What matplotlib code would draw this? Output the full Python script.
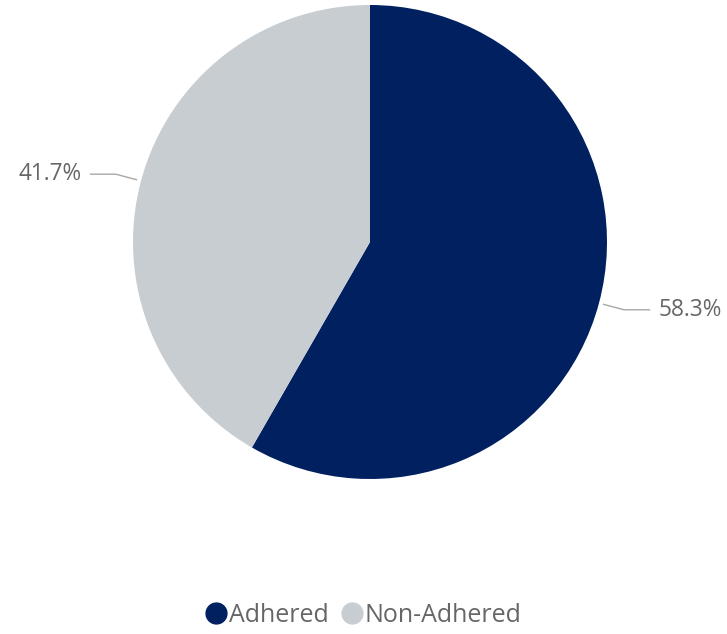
import numpy as np
import matplotlib
matplotlib.use("Agg")
import matplotlib.pyplot as plt
from matplotlib.lines import Line2D

categories = ["Adhered", "Non-Adhered"]
values = [58.3, 41.7]
labels = ["58.3%", "41.7%"]
colors = ["#002060", "#C8CDD2"]

W, H = 727, 634
fig = plt.figure(figsize=(W / 100, H / 100), dpi=100)
ax = fig.add_axes([0, 0, 1, 1])

cx, cy, r = 370, H - 242, 237
wedges, _ = ax.pie(values, colors=colors, startangle=90, counterclock=False,
                   center=(cx, cy), radius=r, frame=True,
                   wedgeprops=dict(linewidth=0))
ax.set_xlim(0, W)
ax.set_ylim(0, H)
ax.axis("off")

label_font = ["Open Sans", "DejaVu Sans"]
for w, lab in zip(wedges, labels):
    ang = np.deg2rad((w.theta1 + w.theta2) / 2)
    x0, y0 = cx + (r + 4) * np.cos(ang), cy + (r + 4) * np.sin(ang)
    x1, y1 = cx + (r + 26) * np.cos(ang), cy + (r + 26) * np.sin(ang)
    side = 1 if np.cos(ang) > 0 else -1
    x2 = x1 + side * 26
    ax.plot([x0, x1, x2], [y0, y1, y1], color="#A8A8A8", lw=1.0, solid_capstyle="butt")
    ax.text(x2 + side * 8, y1, lab, ha="left" if side > 0 else "right", va="center",
            fontsize=16.3, color="#666666", family=label_font)

handles = [Line2D([], [], marker="o", linestyle="none", markersize=15,
                  markerfacecolor=c, markeredgecolor=c) for c in colors]
leg = fig.legend(handles, categories, loc="center", bbox_to_anchor=(0.5, 1 - 615 / H),
                 ncol=2, frameon=False, handletextpad=0.05, columnspacing=0.5,
                 handlelength=0.9, prop=dict(family=["Open Sans", "DejaVu Sans"], size=18))
for t in leg.get_texts():
    t.set_color("#666666")

fig.savefig("out.png", dpi=100, facecolor="white")
